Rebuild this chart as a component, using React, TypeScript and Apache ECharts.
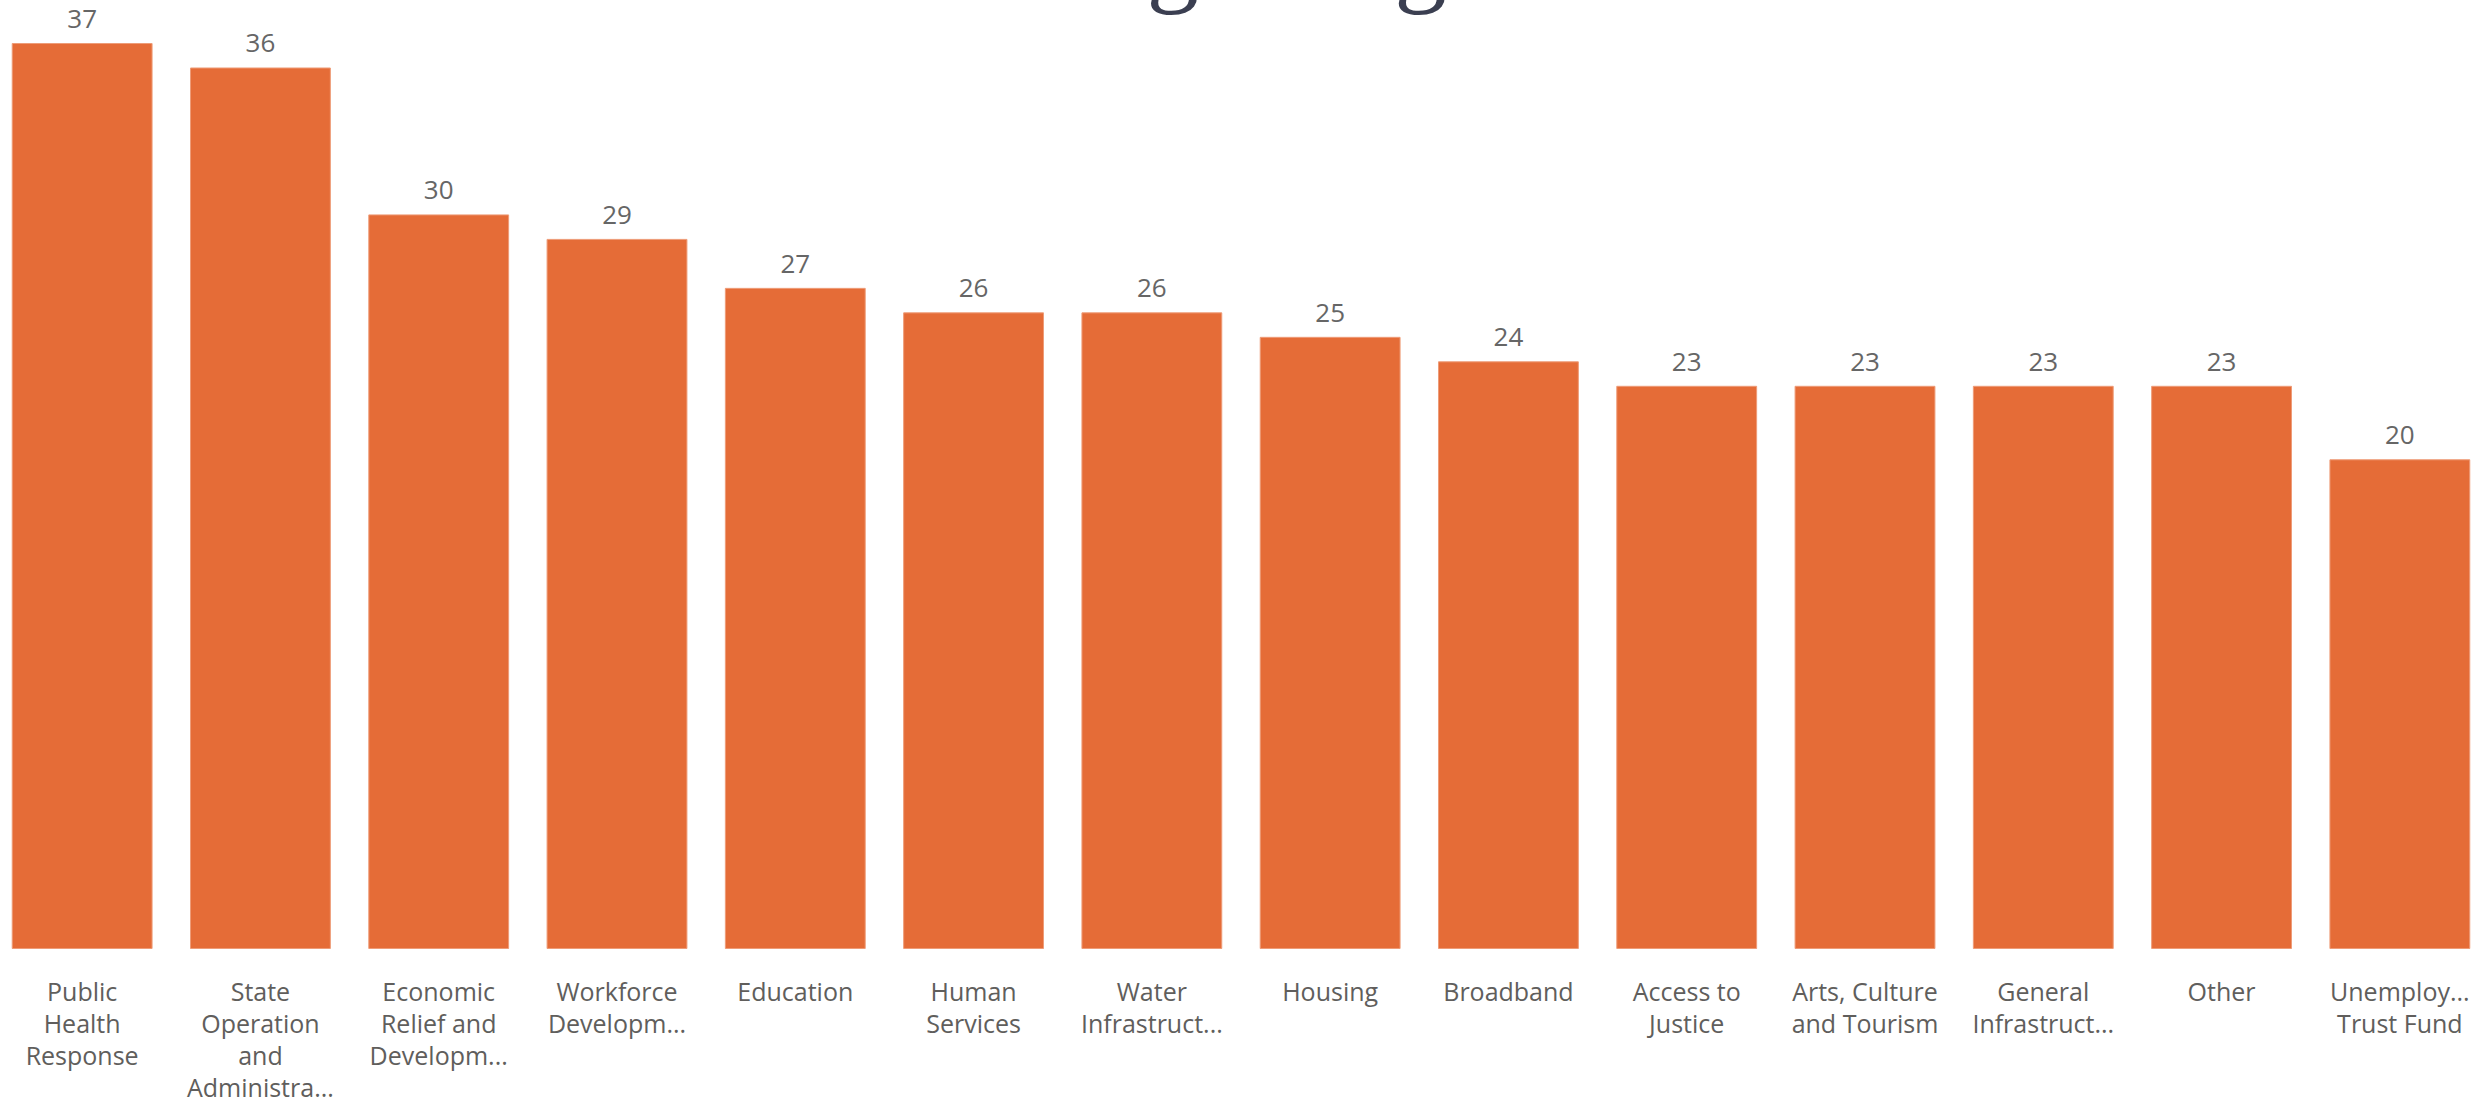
import React, { useEffect, useRef } from "react";
import * as echarts from "echarts";

const titleText = "Funding categories";

const categories = [
  "Public\nHealth\nResponse",
  "State\nOperation\nand\nAdministra...",
  "Economic\nRelief and\nDevelopm...",
  "Workforce\nDevelopm...",
  "Education",
  "Human\nServices",
  "Water\nInfrastruct...",
  "Housing",
  "Broadband",
  "Access to\nJustice",
  "Arts, Culture\nand Tourism",
  "General\nInfrastruct...",
  "Other",
  "Unemploy...\nTrust Fund",
];

const values = [37, 36, 30, 29, 27, 26, 26, 25, 24, 23, 23, 23, 23, 20];

export default function App() {
  const ref = useRef<HTMLDivElement>(null);

  useEffect(() => {
    if (!ref.current) return;
    const chart = echarts.init(ref.current, null, { renderer: "svg" });
    chart.setOption({
      animation: false,
      backgroundColor: "#ffffff",
      grid: { left: 0, right: 2, top: 43, bottom: 148.5, containLabel: false },
      xAxis: {
        type: "category",
        data: categories,
        axisLine: { show: false },
        axisTick: { show: false },
        axisLabel: {
          interval: 0,
          margin: 26,
          fontSize: 25,
          lineHeight: 32,
          color: "#605E5C",
          fontFamily: "Open Sans, Noto Sans, sans-serif",
        },
      },
      yAxis: {
        type: "value",
        min: 0,
        max: 37,
        show: false,
        splitLine: { show: false },
      },
      graphic: [
        {
          type: "text",
          x: 1257,
          y: -44,
          silent: true,
          style: {
            text: titleText,
            fontSize: 105,
            fontFamily: "Liberation Serif, serif",
            fill: "#3B3F51",
            textAlign: "center",
            textVerticalAlign: "middle",
          },
        },
      ],
      series: [
        {
          type: "bar",
          data: values,
          barCategoryGap: "21%",
          itemStyle: {
            color: "#E56C37",
            borderColor: "#EE9C78",
            borderWidth: 1,
          },
          label: {
            show: true,
            position: "top",
            distance: 12,
            fontSize: 26,
            color: "#666666",
            fontFamily: "Open Sans, Noto Sans, sans-serif",
          },
        },
      ],
    });
    return () => chart.dispose();
  }, []);

  return (
    <div
      ref={ref}
      style={{ position: "absolute", left: -7, top: 0, width: 2498, height: 1103 }}
    />
  );
}
